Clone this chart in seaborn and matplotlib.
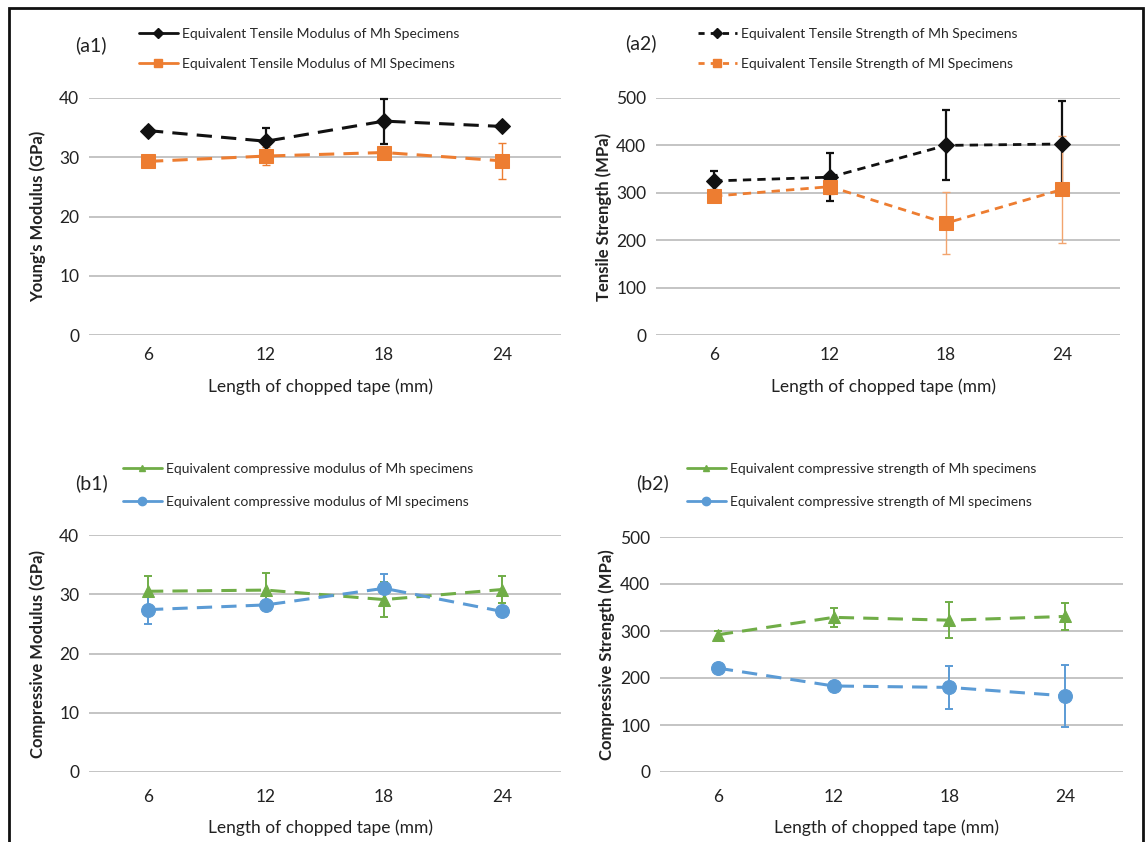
import numpy as np
import pandas as pd
import matplotlib
matplotlib.use("Agg")
import matplotlib.pyplot as plt
from matplotlib.lines import Line2D
from matplotlib.patches import Rectangle
import seaborn as sns

# Tape lengths (mm) shared by all four panels
lengths = ["6", "12", "18", "24"]

# (a1) equivalent tensile modulus, GPa
tens_mod_mh = [34.5, 32.7, 36.1, 35.2]
tens_mod_mh_err = [0.5, 2.2, 3.8, 0.5]
tens_mod_ml = [29.3, 30.2, 30.8, 29.4]
tens_mod_ml_err = [0.6, 1.5, 0.8, 3.0]

# (a2) equivalent tensile strength, MPa
tens_str_mh = [325, 333, 400, 403]
tens_str_mh_err = [20, 50, 74, 91]
tens_str_ml = [293, 313, 236, 307]
tens_str_ml_err = [10, 15, 66, 113]

# (b1) equivalent compressive modulus, GPa
comp_mod_mh = [30.5, 30.7, 29.1, 30.8]
comp_mod_mh_err = [2.6, 2.9, 2.9, 2.2]
comp_mod_ml = [27.4, 28.2, 31.0, 27.1]
comp_mod_ml_err = [2.4, 0.5, 2.5, 0.8]

# (b2) equivalent compressive strength, MPa
comp_str_mh = [292, 329, 323, 331]
comp_str_mh_err = [8, 20, 38, 29]
comp_str_ml = [221, 183, 180, 162]
comp_str_ml_err = [6, 8, 46, 66]

BLACK = "#111111"
ORANGE = "#ED7D31"
GREEN = "#70AD47"
BLUE = "#5B9BD5"
GRID = "#C4C4C4"

sns.set_style("white")
plt.rcParams["font.family"] = ["Lato", "DejaVu Sans"]

W, H = 1146, 842
fig = plt.figure(figsize=(W / 100, H / 100), dpi=100)


def px_axes(left, top, right, bottom):
    return fig.add_axes([left / W, 1 - bottom / H, (right - left) / W, (bottom - top) / H])


def draw_series(ax, vals, errs, color, ecolor, marker, ms, ls, lw, elw):
    df = pd.DataFrame({"pos": np.arange(len(lengths)), "val": vals, "err": errs})
    ax.errorbar(df["pos"], df["val"], yerr=df["err"], fmt="none", ecolor=ecolor,
                elinewidth=elw, capsize=3, capthick=elw, zorder=2, clip_on=False)
    sns.lineplot(data=df, x="pos", y="val", ax=ax, color=color, linestyle=ls,
                 linewidth=lw, marker=marker, markersize=ms, markeredgecolor=color,
                 zorder=3, clip_on=False)


def style_axes(ax, ymax, ystep, ylabel, ylab_px, width_px, xtick_pad, xlab_off, height_px):
    ax.set_xlim(-0.5, len(lengths) - 0.5)
    ax.set_ylim(0, ymax)
    ax.set_xticks(np.arange(len(lengths)))
    ax.set_xticklabels(lengths)
    ax.set_yticks(np.arange(0, ymax + ystep / 2, ystep))
    ax.tick_params(axis="both", length=0, labelsize=12.5, colors="#222222")
    ax.tick_params(axis="y", pad=7)
    ax.tick_params(axis="x", pad=xtick_pad)
    for s in ax.spines.values():
        s.set_visible(False)
    ax.yaxis.grid(True, color=GRID, linewidth=1.4)
    ax.xaxis.grid(False)
    ax.set_axisbelow(True)
    ax.set_ylabel(ylabel, fontsize=12, fontweight="bold", color="#222222")
    ax.yaxis.set_label_coords(-ylab_px / width_px, 0.5)
    ax.set_xlabel("Length of chopped tape (mm)", fontsize=12.5, color="#222222")
    ax.xaxis.set_label_coords(0.49, -xlab_off / height_px)


def panel_legend(handles, labels, x_px, y_px, spacing):
    fig.legend(handles, labels, loc="upper left",
               bbox_to_anchor=(x_px / W, 1 - y_px / H), frameon=False,
               fontsize=10, handlelength=2.8, handletextpad=0.3,
               labelspacing=spacing, borderpad=0, borderaxespad=0)


# (a1)
ax1 = px_axes(89, 98, 561, 335)
draw_series(ax1, tens_mod_mh, tens_mod_mh_err, BLACK, BLACK, "D", 8.5, (0, (5, 3)), 2.2, 1.6)
draw_series(ax1, tens_mod_ml, tens_mod_ml_err, ORANGE, ORANGE, "s", 9.5, (0, (5, 3)), 2.2, 1.0)
style_axes(ax1, 40, 10, "Young's Modulus (GPa)", 43, 472, 9, 43, 237)

# (a2)
ax2 = px_axes(656, 98, 1120, 335)
draw_series(ax2, tens_str_mh, tens_str_mh_err, BLACK, BLACK, "D", 8, (0, (3, 2.2)), 2.0, 1.6)
draw_series(ax2, tens_str_ml, tens_str_ml_err, ORANGE, "#F2A46E", "s", 9.5, (0, (3, 2.2)), 2.0, 1.0)
style_axes(ax2, 500, 100, "Tensile Strength (MPa)", 44, 464, 9, 43, 237)

# (b1)
ax3 = px_axes(89, 535, 561, 772)
draw_series(ax3, comp_mod_mh, comp_mod_mh_err, GREEN, GREEN, "^", 8.5, (0, (5, 3)), 2.2, 1.4)
draw_series(ax3, comp_mod_ml, comp_mod_ml_err, BLUE, BLUE, "o", 10, (0, (5, 3)), 2.2, 1.4)
style_axes(ax3, 40, 10, "Compressive Modulus (GPa)", 43, 472, 12, 47, 237)

# (b2)
ax4 = px_axes(660, 537, 1123, 772)
draw_series(ax4, comp_str_mh, comp_str_mh_err, GREEN, GREEN, "^", 8.5, (0, (5, 3)), 2.2, 1.4)
draw_series(ax4, comp_str_ml, comp_str_ml_err, BLUE, BLUE, "o", 10, (0, (5, 3)), 2.2, 1.4)
style_axes(ax4, 500, 100, "Compressive Strength (MPa)", 45, 463, 12, 47, 235)

# Legends above each panel
panel_legend(
    [Line2D([0], [0], color=BLACK, lw=2, marker="D", ms=5),
     Line2D([0], [0], color=ORANGE, lw=2, marker="s", ms=6)],
    ["Equivalent Tensile Modulus of Mh Specimens",
     "Equivalent Tensile Modulus of Ml Specimens"], 139, 28, 1.3)
panel_legend(
    [Line2D([0], [0], color=BLACK, lw=2, ls=(0, (2.2, 2.2)), marker="D", ms=5),
     Line2D([0], [0], color=ORANGE, lw=2, ls=(0, (2.2, 2.2)), marker="s", ms=6)],
    ["Equivalent Tensile Strength of Mh Specimens",
     "Equivalent Tensile Strength of Ml Specimens"], 698, 28, 1.3)
panel_legend(
    [Line2D([0], [0], color=GREEN, lw=2, marker="^", ms=5),
     Line2D([0], [0], color=BLUE, lw=2, marker="o", ms=6)],
    ["Equivalent compressive modulus of Mh specimens",
     "Equivalent compressive modulus of Ml specimens"], 123, 463, 1.5)
panel_legend(
    [Line2D([0], [0], color=GREEN, lw=2, marker="^", ms=5),
     Line2D([0], [0], color=BLUE, lw=2, marker="o", ms=6)],
    ["Equivalent compressive strength of Mh specimens",
     "Equivalent compressive strength of Ml specimens"], 687, 463, 1.5)

# Panel tags
for tag, x, y in [("(a1)", 75, 45), ("(a2)", 625, 43), ("(b1)", 75, 483), ("(b2)", 636, 483)]:
    fig.text(x / W, 1 - y / H, tag, fontsize=14, va="center", ha="left", color="#222222")

# Outer frame (open at the bottom edge)
fig.patches.append(Rectangle((9 / W, -0.05), (1143 - 9) / W, 1 - 8 / H + 0.05,
                             transform=fig.transFigure, fill=False,
                             edgecolor="#111111", linewidth=2))

fig.savefig("out.png", dpi=100)
